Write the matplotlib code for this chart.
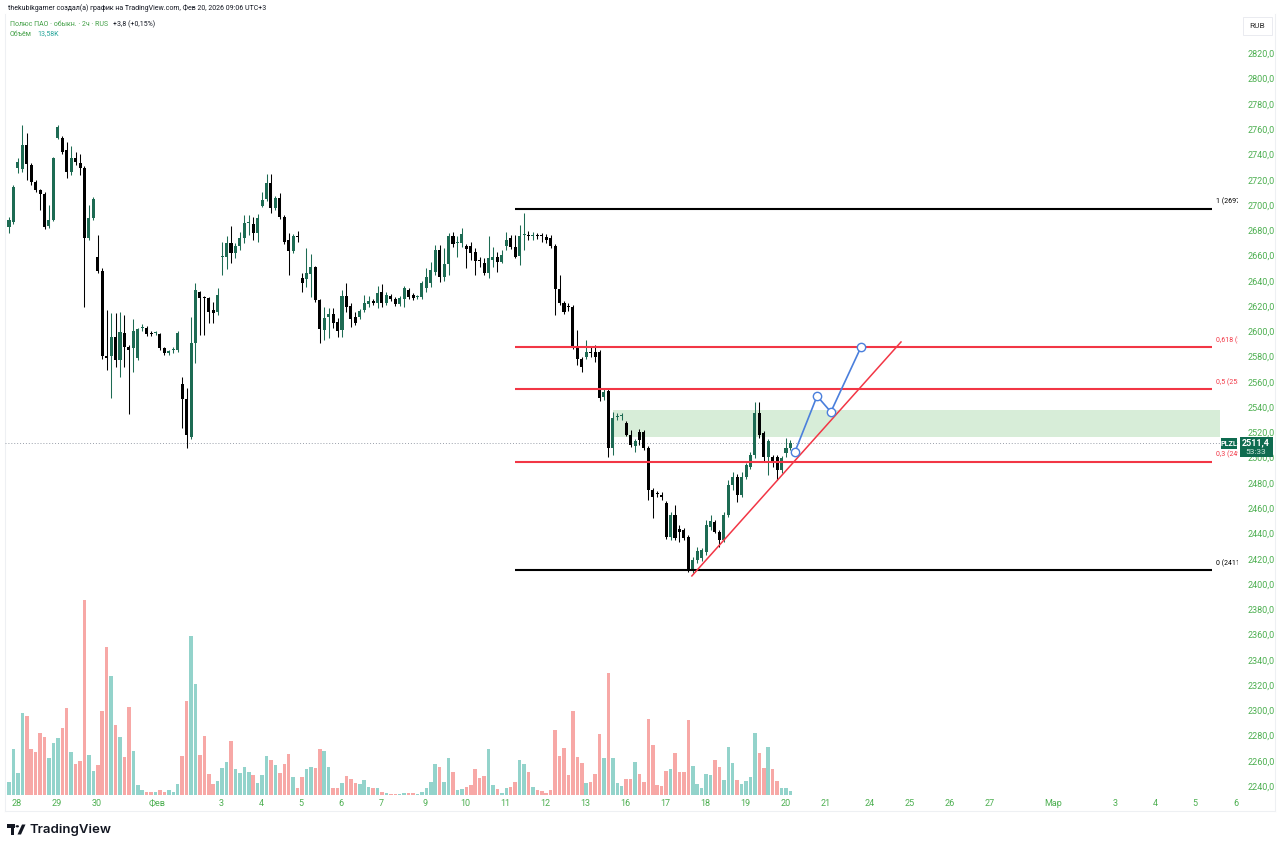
import matplotlib
matplotlib.use("Agg")
import matplotlib.pyplot as plt
from matplotlib.patches import Rectangle, Circle, Polygon
import numpy as np

plt.rcParams['font.family'] = ['Roboto', 'DejaVu Sans']

# ---------------- data (2h candles, PLZL) ----------------
opens = [2682.6, 2686.5, 2729.3, 2728.5, 2747.5, 2731.7, 2718.2, 2711.9, 2708.7, 2683.4,
         2688.1, 2753.0, 2753.0, 2743.5, 2726.1, 2737.2, 2733.2, 2729.3, 2673.9, 2689.7,
         2658.8, 2647.8, 2580.5, 2580.5, 2595.5, 2577.3, 2598.7, 2587.6, 2586.8, 2578.9,
         2602.7, 2602.7, 2598.3, 2598.7, 2597.9, 2586.8, 2582.9, 2585.2, 2585.2, 2558.3,
         2546.5, 2516.4, 2590.8, 2631.1, 2626.8, 2626.4, 2616.9, 2615.3, 2658.8, 2658.8,
         2669.9, 2662.0, 2667.5, 2673.9, 2685.8, 2685.0, 2677.8, 2699.2, 2704.7, 2717.4,
         2697.6, 2705.5, 2690.5, 2672.3, 2663.6, 2674.7, 2642.2, 2641.4, 2645.4, 2650.9,
         2624.8, 2601.1, 2611.4, 2613.7, 2607.4, 2601.1, 2628.0, 2620.1, 2611.4, 2611.4,
         2616.9, 2621.6, 2624.0, 2622.4, 2631.1, 2622.4, 2628.0, 2625.6, 2621.6, 2625.6,
         2632.7, 2628.8, 2627.2, 2627.2, 2634.3, 2638.3, 2647.0, 2664.4, 2643.0, 2653.3,
         2675.5, 2669.9, 2669.9, 2667.5, 2667.5, 2662.8, 2656.1, 2654.1, 2646.2, 2656.5,
         2658.8, 2654.9, 2667.5, 2673.9, 2666.8, 2659.6, 2676.3, 2675.9, 2675.5, 2675.9,
         2675.5, 2674.7, 2673.9, 2667.5, 2633.5, 2622.4, 2619.3, 2619.3, 2587.6, 2578.1,
         2579.7, 2583.6, 2583.6, 2583.6, 2548.0, 2552.8, 2507.7, 2532.2, 2533.0, 2527.5,
         2518.0, 2509.3, 2520.3, 2520.3, 2507.7, 2474.4, 2471.7, 2470.5, 2464.1, 2437.2,
         2454.6, 2443.5, 2442.8, 2437.2, 2411.1, 2419.0, 2420.6, 2425.4, 2445.1, 2449.1,
         2441.2, 2434.9, 2454.6, 2478.4, 2484.7, 2470.5, 2484.7, 2492.6, 2502.1, 2535.4,
         2519.5, 2500.5, 2500.5, 2500.5, 2490.3, 2503.7, 2507.7]
highs = [2690.5, 2715.8, 2737.2, 2763.3, 2757.0, 2733.0, 2720.0, 2713.0, 2710.0, 2700.0,
         2738.0, 2763.3, 2755.0, 2749.9, 2746.7, 2742.0, 2740.0, 2731.0, 2700.0, 2706.0,
         2676.3, 2650.0, 2616.9, 2614.5, 2614.5, 2615.3, 2613.0, 2589.0, 2609.8, 2603.0,
         2605.8, 2604.0, 2600.0, 2600.5, 2599.0, 2588.0, 2585.5, 2588.0, 2600.0, 2563.9,
         2555.2, 2611.4, 2638.3, 2632.0, 2628.0, 2627.2, 2623.2, 2634.3, 2670.7, 2675.5,
         2683.4, 2670.0, 2679.0, 2692.0, 2692.1, 2690.5, 2693.0, 2710.3, 2724.5, 2724.5,
         2707.0, 2709.5, 2692.0, 2677.8, 2677.0, 2679.4, 2646.2, 2666.0, 2661.2, 2652.0,
         2626.0, 2619.3, 2618.5, 2618.5, 2610.6, 2632.7, 2638.3, 2622.4, 2615.3, 2618.0,
         2628.8, 2628.0, 2626.0, 2635.9, 2637.5, 2631.0, 2629.5, 2627.0, 2628.0, 2635.9,
         2634.0, 2630.0, 2629.0, 2640.0, 2650.1, 2654.9, 2668.3, 2668.3, 2666.0, 2677.8,
         2678.6, 2675.5, 2681.8, 2669.0, 2670.7, 2666.0, 2658.8, 2658.0, 2675.5, 2666.8,
         2662.8, 2664.4, 2678.6, 2676.0, 2676.3, 2684.2, 2693.7, 2679.4, 2678.5, 2678.0,
         2678.0, 2677.0, 2676.0, 2669.0, 2644.6, 2624.0, 2622.4, 2621.0, 2601.1, 2580.0,
         2593.1, 2588.4, 2589.2, 2585.0, 2555.2, 2554.0, 2536.2, 2535.4, 2535.4, 2529.0,
         2521.9, 2515.0, 2522.7, 2522.0, 2509.0, 2476.0, 2474.0, 2472.8, 2466.0, 2457.0,
         2462.5, 2446.7, 2444.0, 2439.0, 2421.0, 2429.0, 2428.5, 2450.7, 2454.6, 2451.0,
         2443.0, 2457.0, 2482.3, 2488.7, 2487.1, 2488.7, 2496.0, 2504.5, 2544.1, 2544.1,
         2521.0, 2515.0, 2502.0, 2502.0, 2501.0, 2515.6, 2514.0]
lows = [2677.8, 2685.0, 2725.3, 2726.1, 2719.8, 2716.0, 2710.0, 2696.0, 2681.0, 2682.0,
        2687.0, 2752.0, 2740.0, 2721.4, 2724.0, 2732.0, 2723.7, 2619.3, 2672.3, 2688.0,
        2646.0, 2578.0, 2569.4, 2547.2, 2571.8, 2563.9, 2571.8, 2534.6, 2567.8, 2577.0,
        2600.3, 2596.0, 2596.0, 2597.0, 2585.0, 2581.0, 2581.5, 2583.0, 2584.0, 2523.5,
        2507.7, 2514.8, 2574.9, 2597.1, 2597.1, 2606.6, 2606.6, 2613.0, 2644.6, 2649.3,
        2654.1, 2658.0, 2664.0, 2670.0, 2676.3, 2672.3, 2670.7, 2698.4, 2703.0, 2693.7,
        2696.0, 2689.0, 2669.0, 2644.6, 2662.0, 2670.7, 2631.1, 2635.1, 2627.2, 2623.0,
        2590.8, 2593.1, 2594.7, 2602.6, 2595.5, 2595.5, 2615.3, 2603.4, 2605.0, 2610.0,
        2615.3, 2619.3, 2621.0, 2618.5, 2619.3, 2621.0, 2624.0, 2620.0, 2620.0, 2619.3,
        2626.0, 2625.0, 2626.0, 2626.0, 2631.1, 2635.1, 2644.6, 2639.1, 2639.8, 2644.6,
        2666.8, 2658.8, 2666.8, 2650.1, 2656.5, 2644.6, 2650.9, 2644.6, 2642.2, 2650.9,
        2647.0, 2654.1, 2664.4, 2665.0, 2658.0, 2652.5, 2664.4, 2672.3, 2672.0, 2673.0,
        2671.0, 2670.0, 2666.0, 2612.9, 2621.0, 2614.0, 2616.1, 2586.0, 2573.4, 2567.8,
        2578.0, 2579.7, 2575.7, 2545.0, 2545.7, 2500.5, 2502.1, 2529.8, 2529.8, 2517.0,
        2508.5, 2504.5, 2510.0, 2506.0, 2466.5, 2452.3, 2469.0, 2466.5, 2436.0, 2434.9,
        2434.9, 2433.3, 2435.0, 2409.5, 2408.7, 2417.0, 2418.2, 2423.0, 2442.8, 2440.0,
        2429.3, 2433.0, 2453.0, 2474.4, 2464.9, 2469.0, 2483.0, 2491.0, 2500.0, 2515.6,
        2496.6, 2486.3, 2492.6, 2482.3, 2488.0, 2500.5, 2506.1]
closes = [2688.1, 2714.2, 2734.0, 2747.5, 2732.5, 2718.2, 2711.9, 2708.7, 2682.6, 2688.1,
          2737.2, 2761.7, 2742.0, 2726.1, 2737.2, 2734.0, 2729.3, 2673.9, 2689.7, 2704.7,
          2647.8, 2580.5, 2578.9, 2595.5, 2577.3, 2599.5, 2587.6, 2585.2, 2600.3, 2601.9,
          2603.0, 2597.9, 2597.9, 2599.1, 2586.8, 2582.9, 2584.4, 2585.5, 2598.7, 2546.5,
          2518.0, 2590.8, 2632.7, 2626.4, 2626.4, 2615.3, 2614.5, 2628.8, 2659.3, 2669.9,
          2662.0, 2667.5, 2673.9, 2685.8, 2686.2, 2677.8, 2689.7, 2704.0, 2717.4, 2697.6,
          2705.5, 2690.5, 2670.7, 2663.6, 2675.5, 2674.3, 2638.3, 2646.2, 2650.9, 2624.8,
          2601.9, 2610.6, 2613.7, 2606.6, 2600.3, 2628.0, 2619.3, 2609.8, 2606.6, 2616.1,
          2622.4, 2624.0, 2622.4, 2630.3, 2622.4, 2628.8, 2625.6, 2621.6, 2626.4, 2634.3,
          2627.2, 2626.4, 2627.6, 2638.3, 2643.0, 2648.6, 2664.4, 2643.0, 2653.3, 2675.5,
          2669.1, 2670.3, 2677.0, 2665.2, 2662.0, 2655.7, 2655.7, 2646.2, 2658.0, 2658.8,
          2654.9, 2660.4, 2672.3, 2666.8, 2658.8, 2675.5, 2676.7, 2675.5, 2675.9, 2675.5,
          2675.1, 2672.3, 2667.5, 2633.5, 2622.4, 2615.3, 2618.9, 2587.6, 2578.1, 2571.8,
          2583.6, 2582.9, 2579.7, 2547.2, 2552.0, 2507.7, 2531.4, 2532.6, 2533.4, 2518.0,
          2510.0, 2513.2, 2514.0, 2507.7, 2474.4, 2468.9, 2471.3, 2468.9, 2437.2, 2454.6,
          2436.4, 2441.2, 2436.4, 2411.1, 2419.0, 2426.1, 2426.9, 2446.7, 2449.9, 2441.2,
          2434.9, 2454.6, 2478.4, 2484.7, 2470.5, 2484.7, 2494.2, 2502.1, 2535.4, 2518.0,
          2500.5, 2513.2, 2495.8, 2490.3, 2499.8, 2507.7, 2511.4]
volumes_k = [44, 156, 75, 279, 269, 156, 146, 211, 197, 126,
             177, 194, 228, 296, 146, 105, 116, 663, 136, 82,
             102, 286, 503, 405, 238, 197, 129, 299, 150, 34,
             17, 10, 10, 10, 17, 10, 17, 10, 37, 133,
             320, 541, 377, 136, 201, 71, 37, 48, 92, 112,
             184, 88, 75, 95, 78, 68, 41, 68, 133, 119,
             102, 75, 105, 139, 61, 24, 61, 88, 95, 92,
             156, 150, 95, 24, 24, 41, 65, 54, 41, 37,
             51, 27, 24, 24, 10, 7, 4, 4, 4, 7,
             7, 7, 4, 11, 23, 43, 105, 95, 45, 126,
             78, 17, 19, 28, 34, 88, 58, 65, 156, 33,
             19, 8, 25, 28, 43, 119, 104, 77, 26, 17,
             14, 8, 17, 221, 133, 160, 68, 286, 129, 109,
             40, 44, 71, 207, 126, 415, 126, 42, 32, 54,
             54, 112, 71, 45, 258, 170, 34, 31, 82, 88,
             143, 78, 78, 255, 99, 37, 25, 71, 68, 119,
             95, 51, 163, 109, 51, 36, 48, 60, 211, 143,
             92, 163, 88, 48, 25, 25, 13.58]

date_ticks = [1.8, 10.8, 19.8, 33.3, 47.75, 56.76, 65.77, 74.77, 83.78, 93.8, 102.7, 111.7,
              120.7, 129.7, 138.7, 147.9, 156.9, 165.9, 175.0, 183.9, 193.9, 202.8, 211.9,
              220.9, 235.1, 249.1, 258.1, 267.1, 276.4]
date_labels = ['28', '29', '30', 'Фев', '3', '4', '5', '6', '7', '9', '10', '11', '12', '13',
               '16', '17', '18', '19', '20', '21', '24', '25', '26', '27', 'Мар', '3', '4', '5', '6']
price_ticks = list(range(2240, 2821, 20))

fib_high = 2697.0
fib_low = 2411.0
fib_ratios = [1, 0.618, 0.5, 0.3, 0]
fib_start, fib_end = 114.0, 270.9
zone_top, zone_bottom = 2537.7, 2516.4
zone_start, zone_end = 136.0, 272.7
trend_x = [153.8, 200.9]
trend_y = [2406.4, 2591.6]
proj_x = [177.0, 182.0, 185.1, 191.9]
proj_y = [2504.5, 2548.8, 2536.2, 2587.6]
last_price = 2511.4

# ---------------- layout ----------------
W, H = 1280, 847
fig = plt.figure(figsize=(12.8, 8.47), dpi=100)
fig.patch.set_facecolor('white')


def fx(px):
    return px / W


def fy(py):
    return 1 - py / H


L, R, T, B = 5, 1238, 14, 795
rect = [fx(L), fy(B), fx(R) - fx(L), fy(T) - fy(B)]
vax = fig.add_axes(rect, zorder=1)
ax = fig.add_axes(rect, zorder=2)
ax.patch.set_alpha(0)

XMIN, XMAX = -0.9, 276.8
n = len(opens)
x = np.arange(n)
o = np.array(opens); h = np.array(highs); l = np.array(lows); c = np.array(closes)
up = c >= o

UP_C = '#1d6b53'
DN_C = '#000000'
VUP = '#93d3cb'
VDN = '#f7a8a6'
RED = '#f23645'
GREEN_TXT = '#4caf50'

# volume
vax.bar(x, volumes_k, width=0.8, color=np.where(up, VUP, VDN), linewidth=0)
vax.set_xlim(XMIN, XMAX)
vax.set_ylim(0, 781 * 3.4)
vax.axis('off')

# candles
cols = np.where(up, UP_C, DN_C)
ax.vlines(x, l, h, colors=cols, linewidth=0.75, zorder=3)
body_lo = np.minimum(o, c)
body_h = np.maximum(np.abs(c - o), 0.9)
ax.bar(x, body_h, bottom=body_lo, width=0.68, color=cols, linewidth=0, zorder=4)

ax.set_xlim(XMIN, XMAX)
ax.set_ylim(2233.0, 2851.2)

# current price dotted line
ax.axhline(last_price, color='#9aa0aa', linewidth=0.7, linestyle=(0, (1, 2)), zorder=2)

# zone
ax.add_patch(Rectangle((zone_start, zone_bottom), zone_end - zone_start, zone_top - zone_bottom,
                       facecolor='#4caf50', alpha=0.22, edgecolor='none', zorder=1))

# fib levels (labels are cut by the price scale, as in the original)
for r in fib_ratios:
    lvl = fib_low + r * (fib_high - fib_low)
    col = '#000000' if r in (0, 1) else RED
    ax.hlines(lvl, fib_start, fib_end, colors=col, linewidth=1.5, zorder=5)
    rs = ('%g' % r).replace('.', ',')
    full = f"{rs} ({lvl:.1f})".replace('.', ',')
    t = ax.text(271.8, lvl + 2.4, full, fontsize=5.0, color=col, va='bottom', ha='left',
                zorder=6, clip_on=True)
    t.set_clip_box(ax.bbox)

# trend line
ax.plot(trend_x, trend_y, color=RED, linewidth=1.1, zorder=6)
# projection
ax.plot(proj_x, proj_y, color='#4a7fdc', linewidth=1.2, zorder=7)
ax.plot(proj_x, proj_y, linestyle='none', marker='o', markersize=6, markerfacecolor='white',
        markeredgecolor='#4a7fdc', markeredgewidth=1.0, zorder=8)

# axes styling
for s in ax.spines.values():
    s.set_visible(False)
ax.yaxis.tick_right()
ax.set_yticks(price_ticks)
ax.set_yticklabels([f"{p},0" for p in price_ticks])
ax.tick_params(axis='y', length=0, pad=7, labelsize=6.5, labelcolor=GREEN_TXT)
ax.set_xticks(date_ticks)
ax.set_xticklabels(date_labels)
ax.tick_params(axis='x', length=0, pad=3, labelsize=6.5, labelcolor=GREEN_TXT)

# PLZL tag & price box
fig.patches.append(Rectangle((fx(1221), fy(449)), fx(1237) - fx(1221), fy(438) - fy(449),
                             transform=fig.transFigure, facecolor='#0f6b50', edgecolor='none', zorder=10))
fig.text(fx(1229), fy(443.5), 'PLZL', fontsize=5.2, color='white', ha='center', va='center',
         fontweight='bold', zorder=11)
fig.patches.append(Rectangle((fx(1240), fy(457)), fx(1273) - fx(1240), fy(437) - fy(457),
                             transform=fig.transFigure, facecolor='#0f6b50', edgecolor='none', zorder=10))
fig.text(fx(1256), fy(443), '2511,4', fontsize=6.5, color='white', ha='center', va='center',
         fontweight='bold', zorder=11)
fig.text(fx(1256), fy(452), '53:33', fontsize=6, color='#cfe8de', ha='center', va='center', zorder=11)

# RUB label
fig.patches.append(Rectangle((fx(1243), fy(35)), fx(1272) - fx(1243), fy(17) - fy(35),
                             transform=fig.transFigure, facecolor='white', edgecolor='#e6e8ee',
                             linewidth=0.6, zorder=10))
fig.text(fx(1257.5), fy(26), 'RUB', fontsize=6, color='#333333', ha='center', va='center', zorder=11)

# faint frame
fig.add_artist(plt.Line2D([fx(5), fx(5)], [fy(14), fy(811)], color='#eef0f3', linewidth=0.8))
fig.add_artist(plt.Line2D([fx(1275), fx(1275)], [fy(14), fy(811)], color='#eef0f3', linewidth=0.8))
fig.add_artist(plt.Line2D([fx(5), fx(1275)], [fy(811), fy(811)], color='#eef0f3', linewidth=0.8))

# header
fig.text(fx(8), fy(8), 'thekubikgamer создал(а) график на TradingView.com, Фев 20, 2026 09:06 UTC+3',
         fontsize=5.0, color='#131722', va='center', ha='left')
fig.text(fx(10), fy(24), 'Полюс ПАО · обыкн. · 2ч · RUS', fontsize=5.0, color='#43a047',
         va='center', ha='left')
fig.text(fx(113), fy(24), '+3,8 (+0,15%)', fontsize=5.0, color='#131722', va='center', ha='left')
fig.text(fx(10), fy(34), 'Объём', fontsize=5.0, color='#43a047', va='center', ha='left')
fig.text(fx(37), fy(34), '13,58K', fontsize=5.0, color='#26a69a', va='center', ha='left')

# TradingView logo
fig.patches.append(Rectangle((fx(7), fy(828)), fx(14.5) - fx(7), fy(824.5) - fy(828),
                             transform=fig.transFigure, facecolor='#131722', edgecolor='none'))
fig.patches.append(Rectangle((fx(11), fy(834.5)), fx(14.5) - fx(11), fy(824.5) - fy(834.5),
                             transform=fig.transFigure, facecolor='#131722', edgecolor='none'))
fig.patches.append(Circle((fx(17.3), fy(826.3)), 1.7 / W, transform=fig.transFigure,
                          facecolor='#131722', edgecolor='none'))
fig.patches.append(Polygon([(fx(17.5), fy(834.5)), (fx(21), fy(834.5)), (fx(25.5), fy(824.5)),
                            (fx(22), fy(824.5))], closed=True, transform=fig.transFigure,
                           facecolor='#131722', edgecolor='none'))
fig.text(fx(29), fy(829.5), 'TradingView', fontsize=9.5, color='#131722', va='center', ha='left',
         fontweight='semibold', family=['Inter', 'DejaVu Sans'])

fig.savefig('out.png', dpi=100, facecolor='white')
